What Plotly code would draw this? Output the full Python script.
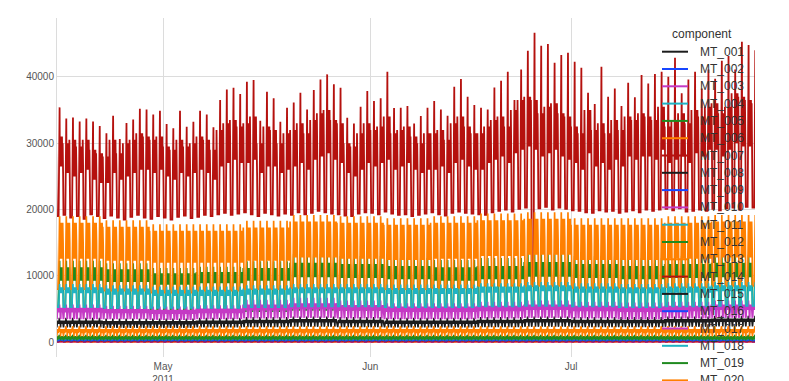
import plotly.graph_objects as go
from datetime import datetime, timedelta

# ---------------- data ----------------
START = datetime(2011, 4, 15)
N_DAYS = 105

names = ["MT_%03d" % i for i in range(1, 21)]
palette = ["#1c1c1c", "#1746ff", "#c43ac4", "#1fb3c4", "#1f8a1f", "#ff8000", "#b5110e"]

# MT_007: daily peaks, daily upper band, daily lower band, nightly lows
red_peak = [35390, 33730, 33880, 33280, 33730, 33280, 32570, 31480, 34130, 30620,
            33050, 33580, 35180, 35080, 34330, 34890, 32890, 32240, 34890, 32490,
            33220, 34890, 34330, 32380, 36490, 38100, 38350,
            37390, 39250, 39500, 33370, 37740, 36750, 33220, 35330, 36140, 37600,
            35080, 38000, 39600, 40360, 38860, 38350, 33820, 32970, 35480, 37850,
            36340, 36750, 40750, 35280, 35330,
            35590, 32980, 34080, 35330, 36340, 35080, 34130, 38500, 39650, 36990,
            35740, 35330, 35080, 38400, 39400, 40750, 36490, 41110, 43920, 46630,
            44670, 44920, 42110, 43270, 43620, 42260, 41360,
            37600, 35890, 41500, 36990, 38250, 35590, 39100, 36900, 40260, 39000,
            40410, 40750, 40000, 42860, 37500, 39600, 40750, 38250, 41110, 39700,
            42410, 43120, 41110, 45270, 44770, 44000]
red_top = [31000, 30000, 30500, 29500, 30500, 29000, 28500,
           28000, 30500, 28500, 30000, 30500, 31500, 31000,
           30500, 31000, 29500, 29000, 30500, 29500, 30000,
           31000, 30500, 29000, 32000, 33000, 33500, 32500,
           33000, 34000, 30000, 32500, 32000, 30000, 31500,
           32000, 33000, 31500, 33500, 34500, 35000, 33500,
           33000, 30000, 29500, 31500, 33000, 32000, 32500,
           34000, 31500, 32000, 32500, 31000, 30000, 31500,
           31500, 32000, 30500, 33000, 34000, 32500, 31500,
           31500, 32500, 33500, 34000, 32500, 35000, 36500,
           37000, 36500, 34500, 35500, 36000, 34500, 34000,
           32500, 31500, 35000, 32000, 33000, 31500, 33500,
           32000, 34000, 33500, 34500, 34000, 33500, 35500,
           32500, 33500, 34500, 33000, 35000, 34000, 35500,
           36000, 34500, 35500, 37500, 37000, 36500, 36000]
red_high = [26500, 25500, 25000, 25500, 26000, 24500, 24000,
            24000, 25500, 24500, 25000, 25500, 26000, 26000,
            25500, 26000, 25000, 24500, 25500, 25000, 25500,
            26000, 25500, 24500, 26500, 27000, 27500, 27000,
            27000, 27500, 25500, 26500, 26500, 25500, 26000,
            26500, 27000, 26000, 27500, 28000, 28500, 27500,
            27000, 25500, 25000, 26000, 27000, 26500, 27000,
            27500, 26000, 26500, 27000, 26000, 25500, 26000,
            26000, 26500, 25500, 27000, 27500, 26500, 26000,
            26000, 27000, 27500, 28000, 27000, 28500, 29000,
            29500, 29000, 28000, 28500, 29000, 28000, 27500,
            27000, 26000, 28500, 26500, 27000, 26000, 27500,
            26500, 28000, 27500, 28000, 28000, 27500, 29000,
            27000, 27500, 28000, 27000, 28500, 28000, 29000,
            29000, 28000, 29000, 30000, 29500, 29500, 29000]
red_low = [19000, 19200, 18800, 19000, 18600, 19300, 19000, 18700, 19100, 18800,
           18500, 18900, 19200, 18800, 18600, 19000, 18800, 18500, 18900, 19100,
           18700, 18900, 19200, 19000, 19300, 19500, 19200, 19400, 19600, 19300,
           19000, 19500, 19300, 19100, 19400, 19200, 19600, 19300, 19500, 19800,
           19600, 19400, 19300, 19100, 19000, 19400, 19600, 19500, 19300, 19700,
           19400, 19200, 19300, 19000, 19200, 19400, 19600, 19300, 19100, 19500,
           19700, 19500, 19400, 19300, 19200, 19600, 19800, 20000, 19700, 20100,
           20300, 8500, 20200, 20400, 20000, 20300, 20100, 19900, 19800, 19600,
           19500, 19900, 19700, 19800, 19500, 19700, 19900, 19600, 20000, 19800,
           20000, 20100, 19900, 20200, 19700, 19800, 20000, 19800, 20100, 19900,
           20200, 20300, 20000, 20400, 20300]

# weekly levels (15 weeks)
orange_peak = [19000, 18400, 17800, 17800, 18300, 19200, 19000, 18700, 19000, 19400, 19600, 18700, 18700, 19000, 19200]
orange_top = [18000, 17400, 16800, 16800, 17300, 18200, 18000, 17700, 18000, 18400, 18600, 17700, 17700, 18000, 18200]
orange_high = [15000, 14600, 14200, 14200, 14600, 15200, 15000, 14800, 15000, 15400, 15600, 14800, 14800, 15000, 15200]
orange_mid = [12600, 12300, 12000, 12000, 12300, 12800, 12600, 12400, 12600, 13000, 13200, 12400, 12400, 12600, 12800]
orange_low = [8000, 7800, 7500, 7800, 8000, 8200, 8200, 8000, 8200, 8500, 8500, 8200, 8200, 8300, 8500]

green_peak = [12300, 11900, 11200, 11400, 12200, 13300, 13000, 12700, 12400, 12700, 13400, 13000, 12700, 13000, 13200]
green_top = [11300, 11000, 10400, 10600, 11200, 12000, 11800, 11500, 11300, 11500, 12100, 11800, 11500, 11800, 12000]
green_high = [9300, 9100, 8700, 8900, 9300, 9800, 9700, 9500, 9300, 9500, 9900, 9700, 9500, 9700, 9800]
green_low = [4800, 4700, 4600, 4600, 4700, 4900, 4900, 4800, 4800, 4900, 5000, 4900, 4800, 4900, 5000]

teal_peak = [8800, 8600, 8400, 8400, 8600, 8800, 8800, 8700, 8700, 8900, 9100, 8900, 8800, 8900, 9100]
teal_top = [8300, 8100, 7900, 7900, 8100, 8300, 8300, 8200, 8200, 8400, 8600, 8400, 8300, 8400, 8600]
teal_high = [7400, 7200, 7000, 7000, 7200, 7400, 7400, 7300, 7300, 7500, 7700, 7500, 7400, 7500, 7700]
teal_low = [5300, 5200, 5200, 5200, 5300, 5400, 5400, 5300, 5300, 5400, 5500, 5400, 5300, 5400, 5500]

magenta_peak = [5700, 5500, 5400, 5600, 6400, 6700, 6300, 5900, 5900, 6100, 6300, 6100, 6000, 6100, 6300]
magenta_top = [5200, 5000, 4900, 5100, 5700, 5900, 5600, 5400, 5400, 5500, 5700, 5500, 5400, 5500, 5700]
magenta_high = [4500, 4400, 4300, 4400, 4800, 5000, 4800, 4600, 4600, 4700, 4900, 4700, 4600, 4700, 4900]
magenta_low = [3500, 3500, 3400, 3500, 3600, 3700, 3600, 3500, 3500, 3600, 3700, 3600, 3500, 3600, 3700]

black_peak = [3700, 3600, 3600, 3700, 3800, 3900, 3800, 3700, 3700, 3800, 3900, 3800, 3800, 3900, 4000]
black_top = [3300, 3200, 3200, 3300, 3400, 3500, 3400, 3300, 3300, 3400, 3500, 3400, 3400, 3500, 3600]
black_high = [2800, 2700, 2700, 2800, 2900, 3000, 2900, 2800, 2800, 2900, 3000, 2900, 2900, 3000, 3100]
black_low = [2250, 2200, 2200, 2250, 2300, 2350, 2300, 2250, 2250, 2300, 2350, 2300, 2300, 2350, 2400]

# per-series levels: (low, mid, high, top, peak); scalars are steady levels
levels = {
    "MT_001": (150, 200, 220, 260, 300),
    "MT_002": (300, 360, 380, 430, 480),
    "MT_003": (20, 30, 35, 45, 60),
    "MT_004": (220, 300, 320, 380, 450),
    "MT_005": (450, 650, 750, 950, 1150),
    "MT_006": (40, 70, 80, 120, 150),
    "MT_007": (red_low, red_high, red_high, red_top, red_peak),
    "MT_008": (160, 220, 240, 300, 350),
    "MT_009": (100, 150, 160, 200, 250),
    "MT_010": (60, 100, 110, 160, 200),
    "MT_011": (320, 400, 420, 520, 600),
    "MT_012": (green_low, green_high, green_high, green_top, green_peak),
    "MT_013": (orange_low, orange_mid, orange_high, orange_top, orange_peak),
    "MT_014": (100, 160, 170, 230, 300),
    "MT_015": (black_low, black_high, black_high, black_top, black_peak),
    "MT_016": (220, 280, 300, 350, 400),
    "MT_017": (magenta_low, magenta_high, magenta_high, magenta_top, magenta_peak),
    "MT_018": (teal_low, teal_high, teal_high, teal_top, teal_peak),
    "MT_019": (300, 450, 520, 650, 800),
    "MT_020": (900, 1400, 1600, 2000, 2450),
}
dense = {"MT_017", "MT_015", "MT_020", "MT_005", "MT_019"}
widths = {"MT_007": 1.8, "MT_013": 1.7, "MT_012": 1.7, "MT_018": 1.6,
          "MT_017": 2.0, "MT_015": 1.6, "MT_020": 1.6}

x_tick_vals = ["2011-05-01", "2011-06-01", "2011-07-01"]
x_tick_text = ["May<br>2011", "Jun", "Jul"]
y_tick_vals = [0, 10000, 20000, 30000, 40000]
y_tick_text = ["0", "10000", "20000", "30000", "40000"]

# daily sampling patterns: (hour, level index: 0 low, 1 mid, 2 high, 3 top, 4 peak)
PATTERN_NIGHT = [(0.0, 3), (1.5, 2), (3.0, 0), (9.5, 0), (11.0, 2), (12.0, 3), (13.0, 4),
                 (14.0, 2), (15.5, 3), (17.0, 1), (18.5, 3), (20.0, 2), (21.5, 3), (23.0, 1)]
PATTERN_DENSE = [(0.0, 3), (1.5, 2), (3.0, 0), (4.5, 2), (6.0, 3), (7.5, 1), (9.0, 3),
                 (10.5, 2), (12.0, 4), (13.5, 2), (15.0, 3), (16.5, 0), (18.0, 3),
                 (19.5, 2), (21.0, 3), (22.5, 1)]


def pick(v, d):
    if isinstance(v, (list, tuple)):
        if len(v) == N_DAYS:
            return v[d]
        return v[min(d // 7, len(v) - 1)]
    return v


def build(name):
    lv = levels[name]
    pattern = PATTERN_DENSE if name in dense else PATTERN_NIGHT
    xs, ys = [], []
    for d in range(N_DAYS):
        for hour, k in pattern:
            t = START + timedelta(days=d, hours=hour)
            xs.append(t.strftime("%Y-%m-%d %H:%M"))
            ys.append(pick(lv[k], d))
    return xs, ys


fig = go.Figure()
for i, name in enumerate(names):
    xs, ys = build(name)
    fig.add_trace(go.Scatter(x=xs, y=ys, mode="lines", name=name,
                             line=dict(color=palette[i % 7], width=widths.get(name, 1.3)),
                             showlegend=False))

# ---------------- layout ----------------
# the page body adds an 8px offset, so figure coords = screen coords - 8
OFF = 8
W, H = 789 - OFF, 381 - OFF
L, R, T, B = 57 - OFF, 755 - OFF, 18 - OFF, 357 - OFF
FONT = "Liberation Sans, Arial, sans-serif"


def px(xp):
    return (xp - OFF - L) / (R - L)


def py(yp):
    return (B - (yp - OFF)) / (B - T)


shapes, annotations = [], []
annotations.append(dict(text="component", x=px(702), y=py(34), xref="paper", yref="paper",
                        showarrow=False, xanchor="center", yanchor="middle",
                        font=dict(family=FONT, size=12, color="#333333")))
for i, name in enumerate(names):
    yy = 51.7 + 17.3 * i
    shapes.append(dict(type="line", xref="paper", yref="paper", x0=px(662), x1=px(688),
                       y0=py(yy), y1=py(yy), layer="above",
                       line=dict(color=palette[i % 7], width=2)))
    annotations.append(dict(text=name, x=px(698), y=py(yy), xref="paper", yref="paper",
                            showarrow=False, xanchor="left", yanchor="middle",
                            font=dict(family=FONT, size=12, color="#333333")))

fig.update_layout(
    width=W, height=H,
    margin=dict(l=L, r=W - R, t=T, b=H - B, pad=0),
    paper_bgcolor="white", plot_bgcolor="white",
    font=dict(family=FONT, size=10, color="#555555"),
    shapes=shapes, annotations=annotations,
    showlegend=False,
)
fig.update_xaxes(range=["2011-04-15 03:40", "2011-07-28 12:00"],
                 tickvals=x_tick_vals, ticktext=x_tick_text, automargin=False,
                 showgrid=True, gridcolor="#dcdcdc", gridwidth=1,
                 zeroline=False, showline=False, ticks="outside", ticklen=0,
                 tickfont=dict(family=FONT, size=10, color="#555555"))
fig.update_yaxes(range=[-2200, 48850], automargin=False,
                 tickvals=y_tick_vals, ticktext=y_tick_text,
                 showgrid=True, gridcolor="#dcdcdc", gridwidth=1,
                 zeroline=False, showline=True, linecolor="#dcdcdc", linewidth=1,
                 ticks="", tickfont=dict(family=FONT, size=10, color="#555555"))

fig.write_html("out.html")
